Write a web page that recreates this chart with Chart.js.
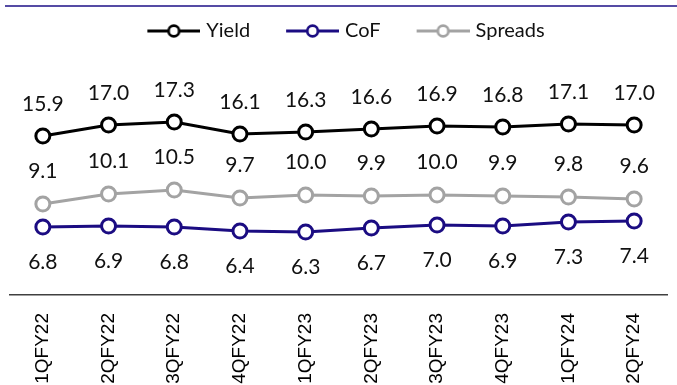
<!DOCTYPE html>
<html>
<head>
<meta charset="utf-8">
<script src="https://cdn.jsdelivr.net/npm/chart.js@4.4.1/dist/chart.umd.min.js"></script>
<style>
  html, body { margin: 0; padding: 0; background: #ffffff; }
  #wrap { width: 677px; height: 385px; position: relative; }
</style>
</head>
<body>
<div id="wrap"><canvas id="chart"></canvas></div>
<script>
// Quarterly yield, cost of funds and spreads (%)
const quarters = ['1QFY22', '2QFY22', '3QFY22', '4QFY22', '1QFY23', '2QFY23', '3QFY23', '4QFY23', '1QFY24', '2QFY24'];
const yieldPct = [15.9, 17.0, 17.3, 16.1, 16.3, 16.6, 16.9, 16.8, 17.1, 17.0];
const cofPct = [6.8, 6.9, 6.8, 6.4, 6.3, 6.7, 7.0, 6.9, 7.3, 7.4];
const spreadsPct = [9.1, 10.1, 10.5, 9.7, 10.0, 9.9, 10.0, 9.9, 9.8, 9.6];

const COL_YIELD = '#000000';
const COL_COF = '#1b0c82';
const COL_SPREAD = '#a3a3a3';
const NAVY_RULE = '#1c0f86';

// Legend glyph: a short line with a hollow circle in the middle
function legendGlyph(color) {
  const margin = 10, lineLen = 53, h = 16;
  const c = document.createElement('canvas');
  c.width = margin + lineLen; c.height = h;
  const g = c.getContext('2d');
  g.strokeStyle = color;
  g.lineWidth = 3;
  g.beginPath();
  g.moveTo(margin, h / 2);
  g.lineTo(margin + lineLen, h / 2);
  g.stroke();
  g.beginPath();
  g.arc(margin + lineLen / 2, h / 2, 5.3, 0, Math.PI * 2);
  g.fillStyle = '#ffffff';
  g.fill();
  g.lineWidth = 2.7;
  g.stroke();
  return c;
}

// Value labels: above for Yield and Spreads, below for CoF
const valueLabels = {
  id: 'valueLabels',
  afterDatasetsDraw(chart) {
    const ctx = chart.ctx;
    ctx.save();
    ctx.font = '21px Lato';
    ctx.fillStyle = '#111111';
    ctx.textAlign = 'center';
    ctx.textBaseline = 'middle';
    chart.data.datasets.forEach((ds, di) => {
      const meta = chart.getDatasetMeta(di);
      const off = ds.labelOffset;
      meta.data.forEach((pt, i) => {
        ctx.fillText(ds.data[i].toFixed(1), pt.x, pt.y + off);
      });
    });
    ctx.restore();
  }
};

// Navy rule across the top of the panel
const topRule = {
  id: 'topRule',
  beforeDraw(chart) {
    const ctx = chart.ctx;
    ctx.save();
    ctx.strokeStyle = NAVY_RULE;
    ctx.lineWidth = 1.6;
    ctx.beginPath();
    ctx.moveTo(5, 6);
    ctx.lineTo(chart.width, 6);
    ctx.stroke();
    ctx.restore();
  }
};

function series(label, data, color, labelOffset) {
  return {
    label, data, labelOffset,
    borderColor: color,
    backgroundColor: '#ffffff',
    borderWidth: 3,
    pointRadius: 7,
    pointHoverRadius: 7,
    pointBorderWidth: 3,
    pointBackgroundColor: '#ffffff',
    pointBorderColor: color,
    tension: 0,
    clip: false
  };
}

const glyphs = [legendGlyph(COL_YIELD), legendGlyph(COL_COF), legendGlyph(COL_SPREAD)];

new Chart(document.getElementById('chart'), {
  type: 'line',
  data: {
    labels: quarters,
    datasets: [
      series('Yield', yieldPct, COL_YIELD, -32),
      series('CoF', cofPct, COL_COF, 35),
      series('Spreads', spreadsPct, COL_SPREAD, -33)
    ]
  },
  options: {
    responsive: true,
    maintainAspectRatio: false,
    animation: false,
    layout: { padding: { top: -9, left: 8, right: -1, bottom: 0 } },
    plugins: {
      tooltip: { enabled: false },
      legend: {
        position: 'top',
        labels: {
          usePointStyle: true,
          pointStyleWidth: 55,
          padding: 30,
          color: '#111111',
          font: { family: 'Lato', size: 20 },
          generateLabels(chart) {
            const items = Chart.defaults.plugins.legend.labels.generateLabels(chart);
            items.forEach((it, i) => { it.pointStyle = glyphs[i]; });
            return items;
          }
        }
      }
    },
    scales: {
      x: {
        offset: true,
        grid: { display: false, drawTicks: false },
        border: { display: true, color: '#404040', width: 1.5 },
        ticks: {
          minRotation: 90,
          maxRotation: 90,
          autoSkip: false,
          padding: 18,
          color: '#000000',
          font: { family: 'Liberation Sans', size: 19 }
        },
        afterFit(scale) { scale.height = 90; }
      },
      y: {
        display: false,
        min: 0,
        max: 24.4
      }
    }
  },
  plugins: [valueLabels, topRule]
});
</script>
</body>
</html>
